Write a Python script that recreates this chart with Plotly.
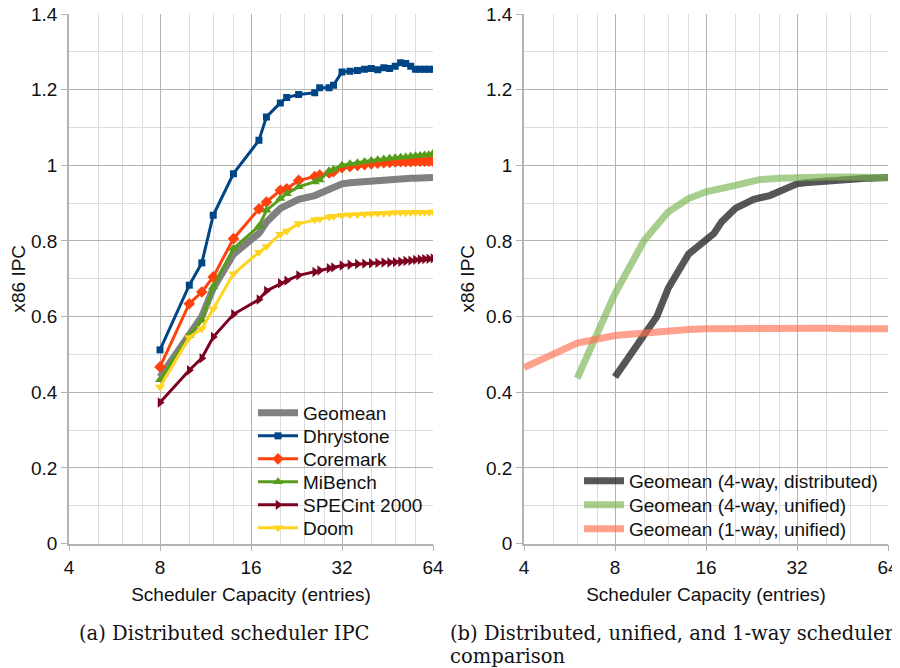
import math
import plotly.graph_objects as go

# ---------------- data ----------------
capacity = [8, 10, 11, 12, 14, 17, 18, 20, 21, 23, 26, 27, 29, 30, 32, 34, 36, 38, 40,
            42, 44, 46, 48, 50, 52, 54, 56, 58, 60, 62, 64]

geomean = [0.440, 0.555, 0.600, 0.675, 0.765, 0.820, 0.850, 0.886, 0.893, 0.910, 0.920,
           0.926, 0.935, 0.940, 0.951, 0.954, 0.956, 0.958, 0.960, 0.961, 0.962, 0.963,
           0.964, 0.965, 0.965, 0.966, 0.966, 0.966, 0.967, 0.967, 0.968]
dhrystone = [0.512, 0.683, 0.742, 0.868, 0.978, 1.066, 1.128, 1.165, 1.179, 1.187, 1.192,
             1.205, 1.205, 1.212, 1.247, 1.249, 1.251, 1.254, 1.256, 1.253, 1.258, 1.256,
             1.262, 1.271, 1.269, 1.262, 1.254, 1.254, 1.254, 1.254, 1.254]
coremark = [0.467, 0.634, 0.665, 0.705, 0.806, 0.885, 0.903, 0.934, 0.938, 0.960, 0.970,
            0.974, 0.980, 0.983, 0.994, 0.997, 1.000, 1.002, 1.004, 1.006, 1.007, 1.008,
            1.009, 1.010, 1.010, 1.010, 1.011, 1.011, 1.011, 1.011, 1.011]
mibench = [0.433, 0.550, 0.590, 0.678, 0.780, 0.839, 0.881, 0.912, 0.925, 0.943, 0.956,
           0.961, 0.985, 0.989, 1.000, 1.004, 1.007, 1.010, 1.013, 1.015, 1.017, 1.019,
           1.020, 1.021, 1.022, 1.024, 1.025, 1.026, 1.027, 1.028, 1.031]
specint = [0.373, 0.458, 0.490, 0.546, 0.606, 0.645, 0.668, 0.688, 0.695, 0.709, 0.718,
           0.722, 0.728, 0.730, 0.735, 0.737, 0.739, 0.740, 0.741, 0.742, 0.743, 0.743,
           0.744, 0.745, 0.747, 0.748, 0.750, 0.751, 0.752, 0.753, 0.754]
doom = [0.414, 0.545, 0.568, 0.621, 0.713, 0.770, 0.785, 0.818, 0.826, 0.846, 0.856,
        0.858, 0.863, 0.865, 0.868, 0.869, 0.870, 0.871, 0.872, 0.873, 0.873, 0.874,
        0.875, 0.875, 0.875, 0.875, 0.876, 0.876, 0.876, 0.876, 0.877]

unified_cap = [6, 7, 8, 10, 12, 14, 16, 20, 24, 28, 32, 40, 48, 56, 64]
unified_4way = [0.437, 0.555, 0.661, 0.802, 0.877, 0.912, 0.930, 0.947, 0.962, 0.966,
                0.968, 0.969, 0.969, 0.968, 0.967]
oneway_cap = [4, 6, 8, 10, 12, 14, 16, 20, 24, 28, 32, 40, 48, 56, 64]
oneway_unified = [0.465, 0.530, 0.550, 0.558, 0.563, 0.566, 0.568, 0.569, 0.570, 0.570,
                  0.570, 0.569, 0.568, 0.568, 0.568]

x_ticks = [4, 8, 16, 32, 64]
x_minor = [5, 6, 7, 10, 12, 14, 20, 24, 28, 40, 48, 56]
y_ticks = [0, 0.2, 0.4, 0.6, 0.8, 1.0, 1.2, 1.4]
y_tick_text = ["0", "0.2", "0.4", "0.6", "0.8", "1", "1.2", "1.4"]
y_minor = [0.1, 0.3, 0.5, 0.7, 0.9, 1.1, 1.3]

# ---------------- figure ----------------
W, H = 900, 668
OFF = 8  # page body margin of the exported html

def px(x):
    return (x - OFF) / W

def py(y):
    return (H - (y - OFF)) / H

FONT = "Liberation Sans, Arial, sans-serif"
FS = 19
LEGFONT = dict(family=FONT, size=FS, color="#111")

fig = go.Figure()
legends = {}

def add_legend(key, xleft, ycenter):
    legends[key] = dict(x=px(xleft), y=py(ycenter), xanchor="left", yanchor="middle",
                        bgcolor="rgba(0,0,0,0)", borderwidth=0, font=LEGFONT,
                        itemwidth=40, tracegroupgap=0)

left_series = [
    (geomean, "Geomean", "#808080", None, 7, 0),
    (dhrystone, "Dhrystone", "#004586", "square", 3, 7),
    (coremark, "Coremark", "#ff420e", "diamond", 3, 9),
    (mibench, "MiBench", "#579d1c", "triangle-up", 3, 9),
    (specint, "SPECint 2000", "#7e0021", "triangle-right", 3, 9),
    (doom, "Doom", "#ffd320", "triangle-down", 3, 9),
]
left_centers = [413, 436, 459, 482, 505, 528]

for i, (y, name, color, symbol, width, msize) in enumerate(left_series):
    key = "legend" if i == 0 else f"legend{i + 1}"
    add_legend(key, 253, left_centers[i])
    fig.add_trace(go.Scatter(
        x=capacity, y=y, name=name,
        mode="lines+markers" if symbol else "lines",
        line=dict(color=color, width=width),
        marker=dict(symbol=symbol, size=msize, color=color) if symbol else None,
        xaxis="x", yaxis="y", legend=key))

right_series = [
    (capacity, geomean, "Geomean (4-way, distributed)", "rgba(30,30,30,0.75)"),
    (unified_cap, unified_4way, "Geomean (4-way, unified)", "rgba(120,180,80,0.65)"),
    (oneway_cap, oneway_unified, "Geomean (1-way, unified)", "rgba(255,110,80,0.65)"),
]
right_centers = [481, 505, 529]
for j, (xs, ys, name, color) in enumerate(right_series):
    key = f"legend{7 + j}"
    add_legend(key, 579, right_centers[j])
    fig.add_trace(go.Scatter(x=xs, y=ys, name=name, mode="lines",
                             line=dict(color=color, width=7),
                             xaxis="x2", yaxis="y2", legend=key))

ydom = [py(543.5), py(14)]

def xaxis_cfg(x0, x1, anchor):
    return dict(type="log", range=[math.log10(4), math.log10(64)],
                domain=[px(x0), px(x1)], anchor=anchor, automargin=False,
                tickmode="array", tickvals=x_ticks, ticktext=[str(v) for v in x_ticks],
                showgrid=True, gridcolor="#b3b3b3", gridwidth=1,
                minor=dict(tickmode="array", tickvals=x_minor, showgrid=True,
                           gridcolor="#dddddd", gridwidth=1, ticks=""),
                showline=True, linecolor="#b3b3b3", linewidth=1.5,
                ticks="outside", ticklen=6, tickcolor="#b3b3b3",
                ticklabeloverflow="allow",
                tickfont=dict(family=FONT, size=FS, color="#111"),
                title=dict(text="Scheduler Capacity (entries)", standoff=11,
                           font=dict(family=FONT, size=FS, color="#111")),
                zeroline=False, fixedrange=True)

def yaxis_cfg(anchor):
    return dict(range=[0, 1.4001], domain=ydom, anchor=anchor, automargin=False,
                tickmode="array", tickvals=y_ticks, ticktext=y_tick_text,
                showgrid=True, gridcolor="#b3b3b3", gridwidth=1,
                minor=dict(tickmode="array", tickvals=y_minor, showgrid=True,
                           gridcolor="#dddddd", gridwidth=1, ticks=""),
                showline=True, linecolor="#b3b3b3", linewidth=1.5,
                ticks="outside", ticklen=6, tickcolor="#b3b3b3",
                ticklabeloverflow="allow",
                tickfont=dict(family=FONT, size=FS, color="#111"),
                title=dict(text="x86 IPC", standoff=6,
                           font=dict(family=FONT, size=FS, color="#111")),
                zeroline=False, fixedrange=True)

fig.update_layout(
    width=W, height=H,
    margin=dict(l=0, r=0, t=0, b=0, autoexpand=False),
    paper_bgcolor="white", plot_bgcolor="white",
    font=dict(family=FONT, size=FS, color="#111"),
    xaxis=xaxis_cfg(69, 433, "y"),
    yaxis=yaxis_cfg("x"),
    xaxis2=xaxis_cfg(524, 888, "y2"),
    yaxis2=yaxis_cfg("x2"),
    showlegend=True,
    **legends,
)

SERIF = "DejaVu Serif, Liberation Serif, serif"
CS = 19.5
fig.add_annotation(text="(a) Distributed scheduler IPC", xref="paper", yref="paper",
                   x=px(224), y=py(633), xanchor="center", yanchor="middle",
                   showarrow=False, font=dict(family=SERIF, size=CS, color="#111"))
fig.add_annotation(text="(b) Distributed, unified, and 1-way scheduler", xref="paper",
                   yref="paper", x=px(448), y=py(633), xanchor="left",
                   yanchor="middle", showarrow=False,
                   font=dict(family=SERIF, size=CS, color="#111"))
fig.add_annotation(text="comparison", xref="paper", yref="paper",
                   x=px(448), y=py(656), xanchor="left", yanchor="middle",
                   showarrow=False, font=dict(family=SERIF, size=CS, color="#111"))

fig.write_html("out.html")
